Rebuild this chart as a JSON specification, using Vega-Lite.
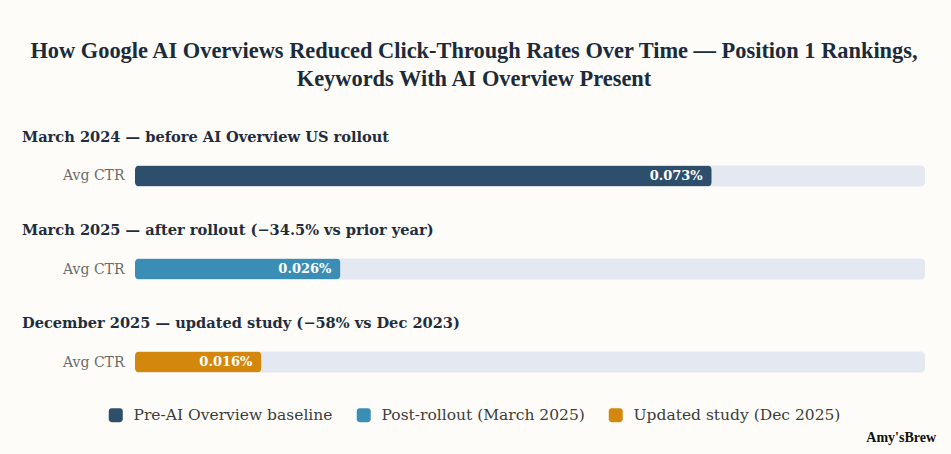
{
  "$schema": "https://vega.github.io/schema/vega-lite/v6.json",
  "autosize": {"type": "none"},
  "width": 790,
  "height": 242,
  "padding": {"left": 135, "top": 148, "right": 26, "bottom": 64},
  "background": "#fdfcf8",
  "title": {
    "text": ["How Google AI Overviews Reduced Click-Through Rates Over Time — Position 1 Rankings,", "Keywords With AI Overview Present"],
    "font": "Liberation Serif",
    "fontSize": 22.4,
    "fontWeight": "bold",
    "color": "#1c2b3a",
    "anchor": "middle",
    "dx": -56,
    "lineHeight": 28,
    "offset": 40
  },
  "config": {
    "view": {"stroke": null},
    "font": "DejaVu Serif"
  },
  "data": {
    "values": [
      {"period": "Mar 2024", "heading": "March 2024 — before AI Overview US rollout", "ctr": 0.073, "label": "0.073%", "series": "Pre-AI Overview baseline"},
      {"period": "Mar 2025", "heading": "March 2025 — after rollout (−34.5% vs prior year)", "ctr": 0.026, "label": "0.026%", "series": "Post-rollout (March 2025)"},
      {"period": "Dec 2025", "heading": "December 2025 — updated study (−58% vs Dec 2023)", "ctr": 0.016, "label": "0.016%", "series": "Updated study (Dec 2025)"}
    ]
  },
  "encoding": {
    "y": {
      "field": "period",
      "type": "nominal",
      "sort": ["Mar 2024", "Mar 2025", "Dec 2025"],
      "scale": {"type": "point", "padding": 0.3},
      "axis": {
        "title": null,
        "domain": false,
        "ticks": false,
        "labelExpr": "'Avg CTR'",
        "labelPadding": 11,
        "labelFont": "DejaVu Serif",
        "labelFontSize": 14,
        "labelColor": "#6b6b6b"
      }
    }
  },
  "layer": [
    {
      "mark": {"type": "bar", "height": 21, "cornerRadius": 4, "color": "#e4e8f0"},
      "encoding": {
        "x": {"datum": 0.1, "type": "quantitative", "scale": {"domain": [0, 0.1]}, "axis": null}
      }
    },
    {
      "mark": {"type": "bar", "height": 21, "cornerRadius": 4},
      "encoding": {
        "x": {"field": "ctr", "type": "quantitative", "scale": {"domain": [0, 0.1]}, "axis": null},
        "color": {
          "field": "series",
          "type": "nominal",
          "scale": {
            "domain": ["Pre-AI Overview baseline", "Post-rollout (March 2025)", "Updated study (Dec 2025)"],
            "range": ["#2d4f6b", "#3a8eb5", "#d4870d"]
          },
          "legend": {
            "title": null,
            "orient": "none",
            "direction": "horizontal",
            "legendX": -27,
            "legendY": 259,
            "symbolType": "M-0.6,-1 h1.2 a0.4,0.4 0 0 1 0.4,0.4 v1.2 a0.4,0.4 0 0 1 -0.4,0.4 h-1.2 a0.4,0.4 0 0 1 -0.4,-0.4 v-1.2 a0.4,0.4 0 0 1 0.4,-0.4 z",
            "symbolSize": 196,
            "symbolStrokeWidth": 0,
            "symbolOpacity": 1,
            "labelFont": "DejaVu Serif",
            "labelFontSize": 15.5,
            "labelLimit": 400,
            "labelColor": "#3d3d3d",
            "labelOffset": 10,
            "columnPadding": 23
          }
        }
      }
    },
    {
      "mark": {"type": "text", "align": "right", "baseline": "middle", "dx": -9, "color": "white", "font": "DejaVu Serif", "fontWeight": "bold", "fontSize": 13},
      "encoding": {
        "x": {"field": "ctr", "type": "quantitative"},
        "text": {"field": "label"}
      }
    },
    {
      "mark": {"type": "text", "align": "left", "baseline": "middle", "dx": -113, "dy": -38, "color": "#1f2d3d", "font": "DejaVu Serif", "fontWeight": "bold", "fontSize": 14.6},
      "encoding": {
        "x": {"datum": 0, "type": "quantitative"},
        "text": {"field": "heading"}
      }
    },
    {
      "data": {"values": [{"period": "Dec 2025", "brand": "Amy'sBrew"}]},
      "mark": {"type": "text", "align": "right", "baseline": "middle", "dx": 11, "dy": 76, "color": "#111111", "font": "Liberation Serif", "fontWeight": "bold", "fontSize": 14},
      "encoding": {
        "x": {"datum": 0.1, "type": "quantitative"},
        "text": {"field": "brand"}
      }
    }
  ]
}
